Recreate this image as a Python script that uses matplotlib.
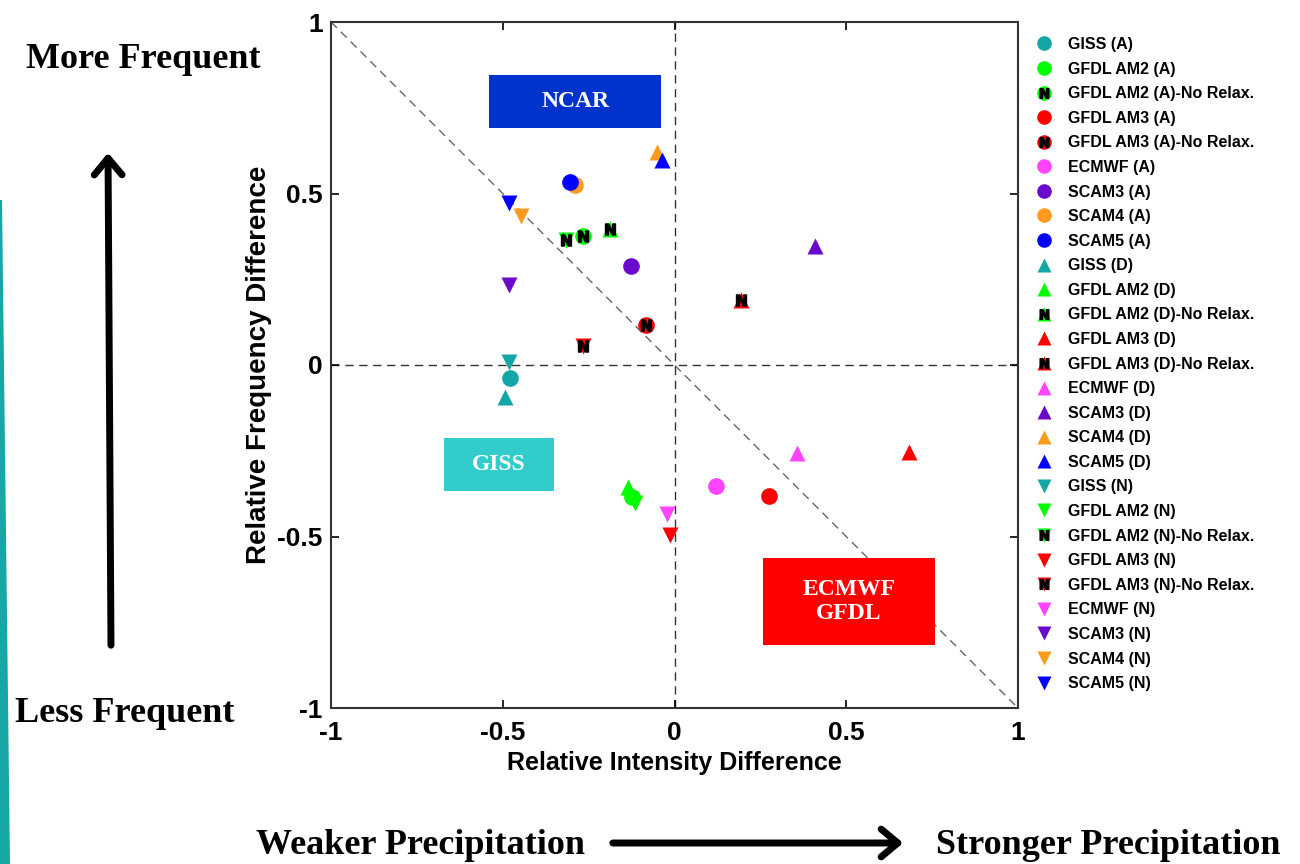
import matplotlib
matplotlib.use("Agg")
import matplotlib.pyplot as plt
from matplotlib.lines import Line2D
from matplotlib.patches import Rectangle, Polygon, FancyArrowPatch
from matplotlib.legend_handler import HandlerTuple

# ---------------- data ----------------
models = ["GISS", "GFDL AM2", "GFDL AM2 No Relax", "GFDL AM3", "GFDL AM3 No Relax",
          "ECMWF", "SCAM3", "SCAM4", "SCAM5"]
model_colors = ["#13A6A6", "#00FF00", "#00FF00", "#FF0000", "#FF0000",
                "#FF44FF", "#6A0ACC", "#FF9A1E", "#0000FF"]
no_relax = [False, False, True, False, True, False, False, False, False]

# Relative intensity difference (x) / relative frequency difference (y)
x_A = [-0.478, -0.125, -0.265, 0.274, -0.082, 0.120, -0.128, -0.289, -0.303]
y_A = [-0.038, -0.385, 0.376, -0.382, 0.117, -0.353, 0.289, 0.525, 0.534]
x_D = [-0.493, -0.134, -0.187, 0.682, 0.195, 0.356, 0.408, -0.050, -0.035]
y_D = [-0.093, -0.356, 0.397, -0.254, 0.190, -0.257, 0.347, 0.621, 0.598]
x_N = [-0.481, -0.114, -0.315, -0.012, -0.265, -0.023, -0.481, -0.446, -0.481]
y_N = [0.009, -0.402, 0.364, -0.496, 0.055, -0.434, 0.233, 0.434, 0.472]

legend_labels_A = ["GISS (A)", "GFDL AM2 (A)", "GFDL AM2 (A)-No Relax.", "GFDL AM3 (A)",
                   "GFDL AM3 (A)-No Relax.", "ECMWF (A)", "SCAM3 (A)", "SCAM4 (A)", "SCAM5 (A)"]
legend_labels_D = [s.replace("(A)", "(D)") for s in legend_labels_A]
legend_labels_N = [s.replace("(A)", "(N)") for s in legend_labels_A]

ticks = [-1, -0.5, 0, 0.5, 1]
tick_labels = ["-1", "-0.5", "0", "0.5", "1"]

# ---------------- figure ----------------
W, H = 1300, 864
fig = plt.figure(figsize=(W / 100, H / 100), dpi=100)
fig.patch.set_facecolor("white")

def fx(px):
    return px / W

def fy(py):
    return 1 - py / H

ax = fig.add_axes([fx(331), fy(708), fx(1018) - fx(331), fy(22) - fy(708)])
ax.set_xlim(-1, 1)
ax.set_ylim(-1, 1)

# reference lines
ax.plot([-1, 1], [1, -1], ls=(0, (6, 4)), color="#666666", lw=1.0, zorder=1)
ax.axhline(0, ls=(0, (6, 4)), color="#333333", lw=1.0, zorder=1)
ax.axvline(0, ls=(0, (6, 4)), color="#333333", lw=1.0, zorder=1)

# region boxes
boxes = [
    ((-0.539, 0.691), 0.501, 0.154, "#0033CC", "NCAR"),
    ((-0.671, -0.367), 0.321, 0.154, "#33CCCC", "GISS"),
    ((0.257, -0.816), 0.501, 0.253, "#FF0000", "ECMWF\nGFDL"),
]
for (bx, by), bw, bh, bc, bt in boxes:
    ax.add_patch(Rectangle((bx, by), bw, bh, facecolor=bc, edgecolor="none", zorder=2))
    ax.text(bx + bw / 2, by + bh / 2, bt, ha="center", va="center", color="white",
            family="Liberation Serif", fontweight="bold", fontsize=17,
            linespacing=1.2, zorder=3)

MS = 12
NMARK = r"$\mathbf{N}$"
handles = []
labels = []
for mk, xs, ys, labs in [("o", x_A, y_A, legend_labels_A),
                         ("^", x_D, y_D, legend_labels_D),
                         ("v", x_N, y_N, legend_labels_N)]:
    for i in range(len(models)):
        ax.plot(xs[i], ys[i], marker=mk, ms=MS, color=model_colors[i], ls="none",
                mec="none", zorder=4)
        h = Line2D([], [], marker=mk, ms=10.5, color=model_colors[i], ls="none", mec="none")
        if no_relax[i]:
            ax.plot(xs[i], ys[i], marker=NMARK, ms=8, color="black", ls="none", zorder=5)
            hn = Line2D([], [], marker=NMARK, ms=7, color="black", ls="none")
            handles.append((h, hn))
        else:
            handles.append(h)
        labels.append(labs[i])

# axes style
ax.set_xticks(ticks)
ax.set_xticklabels(tick_labels)
ax.set_yticks(ticks)
ax.set_yticklabels(tick_labels)
ax.tick_params(direction="in", length=6, width=1.2, top=True, right=True,
               labelsize=19, pad=6)
ax.tick_params(axis="x", pad=9)
for lab in ax.get_xticklabels() + ax.get_yticklabels():
    lab.set_fontweight("bold")
    lab.set_family("Liberation Sans")
for sp in ax.spines.values():
    sp.set_linewidth(1.5)
    sp.set_color("#333333")
ax.set_xlabel("Relative Intensity Difference", family="Liberation Sans",
              fontweight="bold", fontsize=18, labelpad=5)
ax.set_ylabel("Relative Frequency Difference", family="Liberation Sans",
              fontweight="bold", fontsize=20, labelpad=4)

leg = fig.legend(handles, labels, loc="upper left", bbox_to_anchor=(fx(1036), fy(37)),
                 frameon=False, handler_map={tuple: HandlerTuple(ndivide=1)},
                 prop={"family": "Liberation Sans", "weight": "bold", "size": 11.5},
                 labelspacing=0.6, handlelength=1.0, handletextpad=1.0,
                 borderpad=0, borderaxespad=0)

# side annotations
serif = dict(family="Liberation Serif", fontweight="bold", color="black")
fig.text(fx(143), fy(60), "More Frequent", ha="center", va="center", fontsize=26, **serif)
fig.text(fx(125), fy(714), "Less Frequent", ha="center", va="center", fontsize=26, **serif)
fig.text(fx(420), fy(845), "Weaker Precipitation", ha="center", va="center", fontsize=26, **serif)
fig.text(fx(1108), fy(845), "Stronger Precipitation", ha="center", va="center", fontsize=26, **serif)

fig.add_artist(FancyArrowPatch(
    (fx(111), fy(648)), (fx(108), fy(150)), transform=fig.transFigure,
    arrowstyle="->,head_width=0.5,head_length=0.6", lw=5, color="black",
    mutation_scale=20))
fig.add_artist(FancyArrowPatch(
    (fx(610), fy(843)), (fx(906), fy(843)), transform=fig.transFigure,
    arrowstyle="->,head_width=0.5,head_length=0.6", lw=5, color="black",
    mutation_scale=20))

# decorative teal edge bar
fig.add_artist(Polygon([(fx(0), fy(200)), (fx(2), fy(200)), (fx(10), fy(864)), (fx(0), fy(864))],
                       closed=True, transform=fig.transFigure, facecolor="#0AA3A0",
                       edgecolor="none", alpha=0.95))

fig.savefig("out.png", dpi=100)
